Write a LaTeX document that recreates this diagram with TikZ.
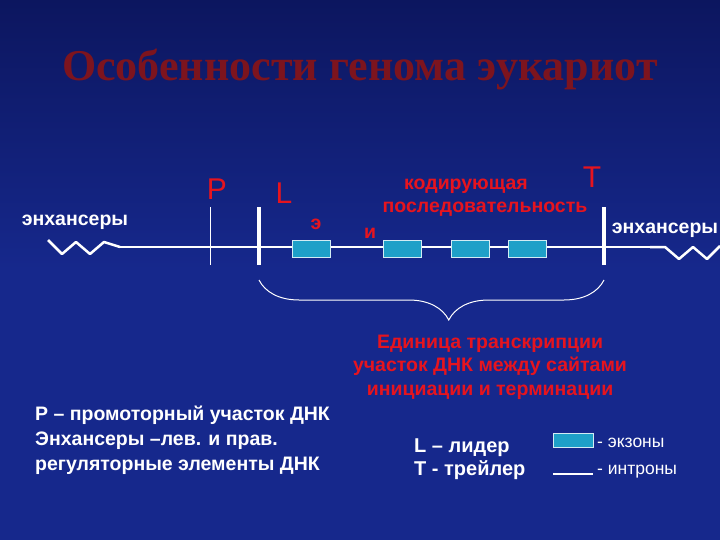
\documentclass[tikz,border=0pt]{standalone}
\usepackage{fontspec}
\setmainfont{Liberation Sans}
\newfontfamily\titlefont{Liberation Serif}
\usetikzlibrary{decorations.pathreplacing}
\definecolor{bg}{RGB}{22,40,140}
\definecolor{bgdark}{RGB}{12,22,95}
\definecolor{txtred}{RGB}{230,20,30}
\definecolor{exon}{RGB}{30,160,200}
\definecolor{ttl}{RGB}{125,20,30}
\tikzset{
  lbl/.style={font=\fontsize{19.5}{22}\selectfont\bfseries, text=white, inner sep=0},
  rlbl/.style={font=\fontsize{19.5}{22}\selectfont\bfseries, text=txtred, inner sep=0},
  big/.style={font=\fontsize{30}{32}\selectfont, text=txtred, inner sep=0},
  exonbox/.style={draw=white!80!exon, fill=exon, line width=0.8pt, minimum width=38pt, minimum height=17pt, inner sep=0},
  dna/.style={white, line width=2.5pt},
  bar/.style={white, line width=3.5pt},
}
\begin{document}
\begin{tikzpicture}[x=1pt,y=-1pt]
\shade[top color=bgdark, bottom color=bg, middle color=bg] (0,0) rectangle (720,540);
\useasboundingbox (0,0) rectangle (720,540);
% title
\node[font=\titlefont\fontsize{44}{48}\selectfont\bfseries, text=ttl] (title) at (360,70) {Особенности генома эукариот};
% DNA
\coordinate (ls) at (120,247);
\coordinate (re) at (650,247);
\draw[white, line width=2.5pt, line join=round] (48,240) -- (62,254) -- (76,242) -- (90,254) -- (104,242) -- (ls);
\draw[dna] (ls) -- (re);
\draw[white, line width=2.5pt, line join=round] (re) -- (665,247) -- (679,259) -- (693,247) -- (707,259) -- (720,246);
\coordinate (Pt) at (210,207); \coordinate (Pb) at (210,265);
\draw[white, line width=1pt] (Pt) -- (Pb);
\coordinate (Lt) at (259,207); \coordinate (Lb) at (259,265);
\draw[bar] (Lt) -- (Lb);
\coordinate (Tt) at (604,207); \coordinate (Tb) at (604,265);
\draw[bar] (Tt) -- (Tb);
\node[exonbox] (e1) at (311,249) {};
\node[exonbox] (e2) at (402,249) {};
\node[exonbox] (e3) at (470,249) {};
\node[exonbox] (e4) at (527,249) {};
% labels
\node[lbl] (enl) at (75,222) {энхансеры};
\node[lbl] (enr) at (665,230) {энхансеры};
\node[big] (P) at (217,189) {P};
\node[big] (L) at (284,193) {L};
\node[big] (T) at (592,177) {T};
\node[rlbl] (e) at (316,224) {э};
\node[rlbl] (i) at (370,233) {и};
\node[rlbl] (cod1) at (466,186) {кодирующая};
\node[rlbl] (cod2) at (485,209) {последовательность};
% brace
\draw[white, line width=1pt, decorate, decoration={brace, amplitude=40pt, aspect=0.55, mirror}] (259,280) -- (604,280);
\node[rlbl, align=center, font=\fontsize{19.5}{23.5}\selectfont\bfseries] (unit) at (490,367) {Единица транскрипции\\участок ДНК между сайтами\\инициации и терминации};
% bottom left
\node[lbl, align=left, anchor=west, font=\fontsize{19.5}{25}\selectfont\bfseries] (note) at (35,440) {Р – промоторный участок ДНК\\Энхансеры –лев. и прав.\\регуляторные элементы ДНК};
% legend
\node[lbl, align=left, anchor=west, font=\fontsize{20}{23}\selectfont\bfseries] (lt) at (414,459) {L – лидер\\T - трейлер};
\node[exonbox, minimum width=40pt, minimum height=14pt] (lexon) at (573,440) {};
\coordinate (li1) at (553,474); \coordinate (li2) at (593,474);
\draw[white, line width=2pt] (li1) -- (li2);
\node[lbl, font=\fontsize{17.5}{18}\selectfont, anchor=west] (lex) at (597,443) {- экзоны};
\node[lbl, font=\fontsize{17.5}{18}\selectfont, anchor=west] (lin) at (597,472) {- интроны};
\end{tikzpicture}
\end{document}
